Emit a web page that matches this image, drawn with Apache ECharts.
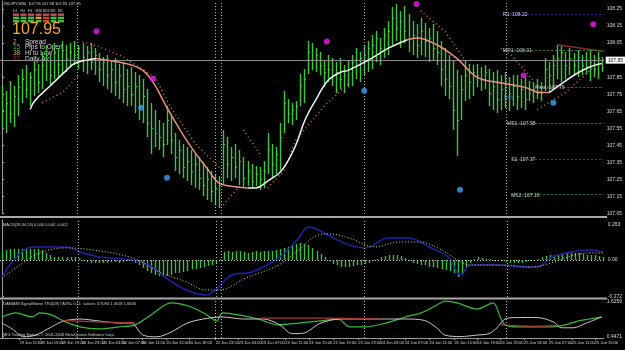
<!DOCTYPE html>
<html lang="en">
<head>
<meta charset="utf-8">
<script src="https://cdn.jsdelivr.net/npm/echarts@6/dist/echarts.min.js"></script>
<style>
html, body { margin: 0; background: #000; }
#chart { width: 625px; height: 350px; }
</style>
</head>
<body>
<div id="chart"></div>
<script>
// USDJPY M30, 150 bars (index 0..149)
var highs = [
  107.80,107.77,107.83,107.80,107.86,107.90,107.92,107.88,107.95,107.93,
  108.00,108.04,107.98,108.05,108.02,108.06,108.04,108.05,108.06,108.04,
  108.05,108.03,108.05,108.02,107.99,107.97,107.98,107.95,107.96,107.93,
  107.94,107.90,107.91,107.88,107.86,107.84,107.78,107.70,107.66,107.60,
  107.58,107.68,107.62,107.52,107.48,107.46,107.44,107.42,107.40,107.38,
  107.35,107.32,107.30,107.28,107.27,107.54,107.50,107.44,107.46,107.42,
  107.38,107.36,107.34,107.33,107.32,107.36,107.52,107.46,107.44,107.58,
  107.77,107.72,107.70,107.71,107.87,107.90,108.06,108.05,108.02,108.00,
  107.95,107.98,107.96,107.94,107.96,107.92,107.95,107.98,108.02,108.00,
  108.04,108.06,108.10,108.12,108.08,108.14,108.18,108.26,108.28,108.24,
  108.27,108.22,108.18,108.16,108.20,108.17,108.14,108.16,108.12,108.06,
  108.02,107.98,107.95,107.89,107.86,107.95,107.93,107.92,107.93,107.91,
  107.92,107.90,107.88,107.89,107.86,107.88,107.85,107.86,107.86,107.84,
  107.85,107.83,107.82,107.84,107.82,107.96,107.94,107.98,108.04,108.04,
  108.00,108.02,107.99,108.01,107.98,108.00,108.01,107.98,108.00,107.97
];
var lows = [
  107.55,107.52,107.58,107.56,107.62,107.70,107.73,107.68,107.74,107.76,
  107.78,107.83,107.80,107.84,107.85,107.86,107.88,107.91,107.92,107.90,
  107.88,107.87,107.89,107.86,107.82,107.80,107.78,107.76,107.74,107.72,
  107.70,107.68,107.68,107.64,107.60,107.58,107.50,107.40,107.44,107.42,
  107.38,107.45,107.40,107.30,107.28,107.26,107.24,107.22,107.20,107.19,
  107.15,107.13,107.12,107.10,107.08,107.22,107.26,107.24,107.26,107.22,
  107.20,107.21,107.20,107.21,107.19,107.20,107.28,107.26,107.28,107.30,
  107.52,107.58,107.57,107.60,107.68,107.70,107.87,107.89,107.88,107.86,
  107.79,107.82,107.80,107.76,107.78,107.76,107.79,107.80,107.84,107.82,
  107.86,107.88,107.90,107.94,107.92,107.96,107.98,108.04,108.06,108.02,
  108.05,108.00,107.98,107.96,107.98,107.97,107.94,107.95,107.92,107.80,
  107.74,107.72,107.54,107.39,107.60,107.71,107.72,107.74,107.79,107.77,
  107.78,107.68,107.66,107.64,107.66,107.67,107.65,107.68,107.66,107.67,
  107.66,107.71,107.70,107.72,107.71,107.77,107.76,107.78,107.84,107.82,
  107.84,107.86,107.87,107.85,107.86,107.87,107.83,107.85,107.84,107.88
];
var closes = [
  107.66,107.70,107.64,107.74,107.79,107.84,107.78,107.85,107.90,107.82,
  107.92,107.98,107.86,108.00,107.93,108.01,107.96,108.00,107.98,108.02,
  107.97,108.00,107.94,107.98,107.90,107.94,107.86,107.90,107.82,107.86,
  107.78,107.80,107.75,107.80,107.68,107.74,107.58,107.55,107.52,107.50,
  107.46,107.60,107.48,107.38,107.42,107.32,107.36,107.30,107.34,107.26,
  107.22,107.25,107.18,107.20,107.22,107.46,107.34,107.38,107.32,107.36,
  107.26,107.30,107.24,107.28,107.25,107.30,107.42,107.34,107.40,107.50,
  107.70,107.64,107.66,107.68,107.80,107.84,108.00,107.95,107.98,107.92,
  107.88,107.90,107.86,107.88,107.84,107.86,107.90,107.94,107.92,107.96,
  107.98,108.02,108.04,108.08,108.02,108.10,108.12,108.20,108.14,108.18,
  108.12,108.08,108.10,108.04,108.12,108.06,108.08,108.02,108.00,107.90,
  107.84,107.80,107.66,107.60,107.78,107.86,107.82,107.88,107.86,107.84,
  107.88,107.76,107.80,107.72,107.78,107.74,107.76,107.80,107.74,107.78,
  107.72,107.76,107.78,107.76,107.79,107.90,107.86,107.92,107.96,108.00,
  107.92,107.96,107.92,107.97,107.92,107.95,107.94,107.90,107.96,107.95
];

// moving average, split where it turns colour
var maRise1 = [[7,107.66],[8.1,107.71],[12,107.80],[16,107.89],[18,107.93],[21,107.95],[23.5,107.96]];
var maFall1 = [[23.5,107.96],[28.5,107.94],[32.3,107.92],[35,107.89],[37.3,107.83],[41.5,107.65],[46.4,107.46],[51.4,107.30],[53.8,107.23],[57,107.21],[61,107.20]];
var maRise2 = [[61,107.20],[63,107.20],[66,107.24],[69.4,107.30],[72.8,107.44],[75.3,107.60],[77.8,107.71],[81,107.83],[84.2,107.88],[86,107.89],[91,107.95],[96,108.02],[100.7,108.07]];
var maFall2 = [[100.7,108.07],[103,108.08],[108,108.04],[113,107.96],[118,107.85],[123,107.82],[130,107.79],[133.6,107.76],[136,107.76]];
var maRise3 = [[136,107.76],[139.5,107.82],[142.7,107.87],[146,107.91],[149,107.93]];

// parabolic SAR runs
var sarRuns = [
  [[10,107.70],[15,107.76],[19,107.86]],
  [[20,108.06],[24,108.03],[30,107.97],[38,107.85],[42,107.67],[48,107.46],[54,107.32]],
  [[55,107.10],[59,107.21]],
  [[60,107.54],[64,107.40]],
  [[66,107.20],[70,107.30],[73,107.48],[80,107.68],[86,107.81]],
  [[104,108.24],[110,108.12],[115,107.95]],
  [[124,108.02],[127,107.97],[132,107.83]],
  [[133,107.66],[140,107.76],[148,107.93]]
];

var sellDots = [[23.5,108.12],[37.5,107.84],[80.7,108.06],[103,108.28],[129.6,107.86],[146.9,108.16]];
var buyDots = [[34.6,107.67],[41,107.26],[90,107.77],[113.8,107.19],[137,107.70]];

var pivotNames = ['R1', 'MR1', 'Pivot', 'MS1', 'S1', 'MS2'];
var pivotValues = [108.22, 108.01, 107.79, 107.58, 107.37, 107.16];
var pivotStart = [124.5, 124.5, 132.5, 125.5, 126.5, 126.5];
var pivotColors = ['#2a2a9a', '#3d7d3d', '#8a3a8a', '#3d7d3d', '#9a2a2a', '#3d7d3d'];
var trendLine = [[138,108.04],[149.5,108.00]];

var lastPrice = 107.95;
var priceTicks = [108.25,108.15,108.05,107.85,107.75,107.65,107.55,107.45,107.35,107.25,107.15,107.05];

// MACD sub-window
var macdHist = [
  0.07,0.075,0.08,0.08,0.085,0.085,0.08,0.08,0.085,0.08,0.075,
  0.05,0.04,
  0.02,0.025,0.02,0.02,0.025,0.02,0.015,
  -0.01,-0.015,-0.02,-0.02,-0.025,-0.02,-0.02,-0.015,-0.015,-0.02,-0.015,-0.01,-0.01,
  -0.02,-0.04,-0.06,-0.08,-0.10,-0.11,-0.12,-0.125,-0.12,-0.11,-0.10,-0.095,-0.09,-0.08,-0.07,-0.07,-0.06,-0.05,-0.045,-0.04,
  -0.02,0.005,
  0.06,0.065,0.06,0.065,0.07,0.06,0.055,0.06,0.065,0.06,0.07,0.065,0.07,0.075,0.085,0.09,
  0.10,0.11,0.12,0.125,0.12,0.11,0.09,0.07,0.045,0.02,
  -0.01,-0.03,-0.04,-0.05,-0.055,-0.05,-0.045,-0.04,-0.035,-0.03,-0.02,-0.01,
  0.01,0.02,0.03,0.04,0.04,0.035,0.03,0.015,
  -0.01,-0.02,-0.03,-0.035,-0.04,-0.05,-0.055,-0.06,-0.07,-0.075,-0.08,
  -0.10,-0.125,-0.11,-0.06,
  -0.02,0.01,0.02,0.015,0.01,0.005,-0.005,-0.01,-0.01,
  -0.015,-0.02,-0.02,-0.025,-0.02,-0.015,-0.01,-0.005,
  0.01,0.02,0.03,0.035,0.04,0.045,0.05,0.05,0.055,0.05,0.05,0.045,0.04,0.04,0.035,0.03,0.025
];
var macdMain = [[0,-0.128],[7.7,0.098],[16,0.098],[19.3,0.060],[24.2,0.023],[32.3,0],[36.5,-0.038],[40.7,-0.135],[45.7,-0.225],[50.6,-0.263],[53,-0.225],[57,-0.113],[62,-0.090],[68.6,0.015],[73.6,0.165],[76,0.248],[78.5,0.225],[81.7,0.173],[86,0.113],[90,0.090],[95.8,0.165],[100.7,0.165],[106.4,0.090],[110.6,0.023],[113.8,-0.113],[116.3,-0.038],[123,-0.038],[129.6,-0.053],[132.8,-0.053],[136,0.015],[141,0.060],[146,0.075],[149,0.060]];
var macdSignal = [[0,-0.135],[4.4,-0.038],[9.4,0.053],[16,0.090],[22.5,0.075],[32.3,0.015],[39,-0.090],[45.7,-0.165],[50.6,-0.225],[53.8,-0.225],[60.5,-0.135],[68.6,-0.038],[73.6,0.075],[78.5,0.188],[81,0.195],[86,0.165],[92.6,0.098],[98.3,0.135],[103.2,0.135],[108.1,0.090],[113,0],[116.3,-0.038],[124.7,-0.038],[131,-0.053],[137,-0.015],[142,0.038],[146,0.053],[149,0.053]];
var macdTicks = [0.263, 0, -0.272];
var macdTickText = ['0.263', '0.00', '-0.272'];

// Damiani volatmeter sub-window
var damGreen = [[0,1.12],[3.5,1.26],[7.4,1.12],[9.4,1.26],[12.3,1.19],[15.3,0.98],[19.3,0.78],[24.2,0.71],[29.1,0.78],[33.1,0.85],[37,1.19],[42,1.60],[47,1.46],[50.9,1.19],[53.3,0.98],[54.8,1.26],[58.8,1.19],[63.7,1.05],[68.6,0.85],[73.6,0.91],[78.5,0.98],[83.5,1.05],[86.4,0.78],[90.4,0.78],[95.3,0.91],[100.2,1.12],[104.2,1.26],[108.1,1.53],[110.1,1.66],[113.1,1.60],[118,1.39],[122,1.60],[124,1.05],[125,0.85],[128,0.78],[136,0.78],[140,0.85],[143,0.98],[146,1.05],[149,1.12]];
var damWhite = [[0,0.91],[2.5,0.71],[5.4,0.44],[8.4,0.50],[12.3,0.78],[15.3,0.98],[19.3,1.05],[24.2,0.98],[29.1,0.91],[32.1,0.91],[35,0.50],[38.5,0.44],[42,0.60],[46,0.91],[50,1.05],[54.8,1.12],[60,1.05],[65,1.05],[69,0.85],[72,0.55],[75,0.57],[79,0.90],[84,1.05],[90,1.05],[95,1.05],[100,1.05],[105,1.00],[108,0.75],[110,0.50],[114,0.45],[118,0.50],[121,0.55],[123,0.75],[125,1.05],[128,1.10],[133,1.10],[137,0.95],[139,0.75],[142,0.75],[145,0.90],[149,1.12]];
var damRed = [
  [[15,1.00],[24,0.95],[33,0.92]],
  [[64,1.08],[80,1.08],[94,1.05]],
  [[124,0.85],[132,0.80],[138,0.82]]
];
var damTicks = [1.63, 0.45];
var damTickText = ['1.6259', '0.4471'];

var separators = [18.8, 53.1, 54.4, 89.9, 125.3];

var timeLabels = ['19 Jun 2008','19 Jun 11:00','19 Jun 15:00','19 Jun 19:00','19 Jun 23:00','20 Jun 03:00','20 Jun 07:00','20 Jun 11:00','20 Jun 15:00','20 Jun 19:00','22 Jun 23:00','23 Jun 03:00','23 Jun 07:00','23 Jun 11:00','23 Jun 15:00','23 Jun 19:00','23 Jun 23:00','24 Jun 03:00','24 Jun 07:00','24 Jun 11:00','24 Jun 15:00','24 Jun 19:00','24 Jun 23:00','25 Jun 03:00','25 Jun 07:00','25 Jun 11:00','25 Jun 15:00'];
var timePos = [-0.5,4.4,9.6,14.8,19.8,25,29.9,34.8,40.8,46.4,53.1,58.8,64.5,70.4,76.3,82.3,88.5,94.1,100.1,106.2,112.4,118.1,123.8,129.7,135.9,141.6,147.3];

var chart = echarts.init(document.getElementById('chart'));
var txtFont = 'Liberation Sans';
var barColor = '#3cc83c';

var bars = highs.map(function (h, i) {
  return [i, closes[i], lows[i], h];
});

// price bar: thin column from low to high, plus a close tick
function renderBar(params, api) {
  var x = api.value(0);
  var top = api.coord([x, api.value(3)]);
  var bot = api.coord([x, api.value(2)]);
  var cl = api.coord([x, api.value(1)]);
  var px = Math.round(top[0]);
  var y1 = Math.round(top[1]);
  var y2 = Math.round(bot[1]);
  return {
    type: 'group',
    children: [
      { type: 'rect', shape: { x: px - 0.2, y: y1, width: 1.4, height: Math.max(1, y2 - y1) }, style: { fill: barColor } },
      { type: 'rect', shape: { x: px + 1, y: Math.round(cl[1]), width: 1, height: 1 }, style: { fill: barColor } }
    ]
  };
}

// histogram column from zero to value
function renderHist(params, api) {
  var x = api.value(0);
  var p = api.coord([x, api.value(1)]);
  var z = api.coord([x, 0]);
  var px = Math.round(p[0]);
  var a = Math.round(Math.min(p[1], z[1]));
  var b = Math.round(Math.max(p[1], z[1]));
  return { type: 'rect', shape: { x: px - 0.2, y: a, width: 1.4, height: Math.max(1, b - a) }, style: { fill: '#3cc03c' } };
}

var vLines = separators.map(function (v) { return { xAxis: v }; });
var vLineStyle = { color: '#b8b8b8', type: [1, 2], width: 1 };

function maSeries(data, color) {
  return {
    type: 'line', xAxisIndex: 0, yAxisIndex: 0, data: data, smooth: 0.4,
    symbol: 'none', lineStyle: { color: color, width: 1.5 }, z: 5, silent: true
  };
}

function yAxisFor(idx, min, max, ticks, fmt) {
  return {
    type: 'value', gridIndex: idx, position: 'right', min: min, max: max,
    splitLine: { show: false },
    axisLine: { show: true, lineStyle: { color: '#9a9a9a' } },
    axisTick: { show: true, length: 2, customValues: ticks, lineStyle: { color: '#9a9a9a' } },
    axisLabel: { customValues: ticks, formatter: fmt, color: '#d8d8d8', fontSize: 5, fontFamily: txtFont, margin: 3 }
  };
}

var series = [
  {
    type: 'custom', xAxisIndex: 0, yAxisIndex: 0, renderItem: renderBar, data: bars, silent: true,
    markLine: {
      symbol: 'none', silent: true, animation: false,
      data: [
        { yAxis: lastPrice, lineStyle: { color: '#8c8c8c', type: 'solid', width: 1 },
          label: { show: true, position: 'end', distance: 2, formatter: lastPrice.toFixed(2), color: '#000', backgroundColor: '#fff', fontSize: 5, fontFamily: txtFont, padding: [1, 2] } }
      ].concat(vLines.map(function (d) { return Object.assign({ lineStyle: vLineStyle, label: { show: false } }, d); }))
    }
  },
  maSeries(maRise1, '#f2f2f2'),
  maSeries(maFall1, '#e8907c'),
  maSeries(maRise2, '#f2f2f2'),
  maSeries(maFall2, '#e8907c'),
  maSeries(maRise3, '#f2f2f2'),
  {
    type: 'scatter', xAxisIndex: 0, yAxisIndex: 0, data: sellDots, symbolSize: 6,
    itemStyle: { color: '#e81ee8' }, z: 6, silent: true
  },
  {
    type: 'scatter', xAxisIndex: 0, yAxisIndex: 0, data: buyDots, symbolSize: 6,
    itemStyle: { color: '#3aa0f0' }, z: 6, silent: true
  },
  {
    type: 'line', xAxisIndex: 0, yAxisIndex: 0, data: trendLine, symbol: 'none',
    lineStyle: { color: '#8b2a2a', width: 1.5 }, silent: true
  },
  {
    type: 'line', xAxisIndex: 0, yAxisIndex: 0, data: [], symbol: 'none', silent: true,
    markLine: {
      symbol: 'none', silent: true, animation: false,
      data: pivotNames.map(function (n, k) {
        return [
          { coord: [pivotStart[k], pivotValues[k]], lineStyle: { color: pivotColors[k], type: [2, 2], width: 1 },
            label: { show: true, position: 'insideStartTop', distance: [0, -3], formatter: n + ': ' + pivotValues[k].toFixed(2), color: '#cfcfcf', fontSize: 5, fontFamily: txtFont } },
          { coord: [149.5, pivotValues[k]] }
        ];
      })
    }
  }
];

sarRuns.forEach(function (run) {
  series.push({
    type: 'line', xAxisIndex: 0, yAxisIndex: 0, data: run, symbol: 'none', silent: true,
    lineStyle: { color: '#d0705a', width: 1.5, type: [1, 3] }, z: 4
  });
});

series.push({
  type: 'custom', xAxisIndex: 1, yAxisIndex: 1, renderItem: renderHist, silent: true,
  data: macdHist.map(function (v, i) { return [i, v]; }),
  markLine: {
    symbol: 'none', silent: true, animation: false, label: { show: false },
    data: [{ yAxis: 0, lineStyle: { color: '#cfcfcf', type: [1, 2], width: 1 } }]
      .concat(vLines.map(function (d) { return Object.assign({ lineStyle: vLineStyle }, d); }))
  }
});
series.push({
  type: 'line', xAxisIndex: 1, yAxisIndex: 1, data: macdMain, smooth: 0.4, symbol: 'none',
  lineStyle: { color: '#2020a8', width: 1.5 }, silent: true
});
series.push({
  type: 'line', xAxisIndex: 1, yAxisIndex: 1, data: macdSignal, smooth: 0.4, symbol: 'none',
  lineStyle: { color: '#dcd6a8', width: 1, type: [1, 2] }, silent: true
});

series.push({
  type: 'line', xAxisIndex: 2, yAxisIndex: 2, data: damGreen, smooth: 0.3, symbol: 'none',
  lineStyle: { color: '#3ab83a', width: 1.2 }, silent: true,
  markLine: {
    symbol: 'none', silent: true, animation: false, label: { show: false },
    data: vLines.map(function (d) { return Object.assign({ lineStyle: vLineStyle }, d); })
  }
});
series.push({
  type: 'line', xAxisIndex: 2, yAxisIndex: 2, data: damWhite, smooth: 0.3, symbol: 'none',
  lineStyle: { color: '#c8c8c8', width: 1 }, silent: true
});
damRed.forEach(function (run) {
  series.push({
    type: 'line', xAxisIndex: 2, yAxisIndex: 2, data: run, smooth: 0.3, symbol: 'none',
    lineStyle: { color: '#a83a3a', width: 1.2 }, silent: true
  });
});

var matrixCols = ['D1', 'H4', 'H1', 'M30', 'M15', 'M5', 'M1'];
var matrixColors = [
  ['#c85050', '#c85050', '#c85050', '#c85050', '#c85050', '#c85050', '#c85050'],
  ['#3cbf3c', '#3cbf3c', '#3cbf3c', '#e0a030', '#d04030', '#3cbf3c', '#3cbf3c'],
  ['#3cbf3c', '#3cbf3c', '#3cbf3c', '#3cbf3c', '#d04030', '#3cbf3c', '#3cbf3c']
];
var graphics = [];
matrixCols.forEach(function (c, k) {
  graphics.push({ type: 'text', left: 13 + k * 7.5, top: 9, style: { text: c, fill: '#cfcfcf', fontSize: 3.5, fontFamily: txtFont } });
  matrixColors.forEach(function (row, r) {
    graphics.push({ type: 'rect', shape: { x: 13 + k * 7.5, y: 13.5 + r * 3.2, width: 6, height: 2.4 }, style: { fill: row[k] } });
  });
});

var infoRows = [
  ['2', '#e0a040', 'Spread'],
  ['15', '#3cbf3c', 'Pips to Open'],
  ['38', '#e0a040', 'Hi to Low'],
  ['97', '#8b3a1a', 'Daily Av']
];
infoRows.forEach(function (r, k) {
  graphics.push({ type: 'text', left: 13, top: 38.5 + k * 5.6, style: { text: r[0], fill: r[1], fontSize: 6.5, fontFamily: txtFont } });
  graphics.push({ type: 'text', left: 25, top: 38.5 + k * 5.6, style: { text: r[2], fill: '#d8d8d8', fontSize: 6.5, fontFamily: txtFont } });
});

graphics.push(
  { type: 'text', left: 2, top: 1.5, style: { text: 'USDJPY,M30  107.96 107.98 107.95 107.95', fill: '#d8d8d8', fontSize: 4, fontFamily: txtFont } },
  { type: 'text', left: 12, top: 22, style: { text: '107.95', fill: '#f2a830', fontSize: 16, fontFamily: txtFont } },
  { type: 'text', left: 3, top: 223, style: { text: 'MACD(28,34,13) 0.040 0.044 -0.002', fill: '#cfcfcf', fontSize: 4, fontFamily: txtFont } },
  { type: 'text', left: 3, top: 301.5, style: { text: 'DAMIANI Signal/Noise TR4(28) / ATR= 0.11  values: 0.9094 1.0618 1.0636', fill: '#cfcfcf', fontSize: 4, fontFamily: txtFont } },
  { type: 'text', left: 3, top: 333, style: { text: 'MIG Trading Station, \u00a9 2001-2008 MetaQuotes Software Corp.', fill: '#cfcfcf', fontSize: 4, fontFamily: txtFont } },
  { type: 'text', left: 504, top: 95, style: { text: 'Daily', fill: '#3a5ad0', fontSize: 4.5, fontFamily: txtFont } },
  { type: 'line', shape: { x1: 0, y1: 217, x2: 607, y2: 217 }, style: { stroke: '#a8a8a8', lineWidth: 2 } },
  { type: 'line', shape: { x1: 0, y1: 298.5, x2: 607, y2: 298.5 }, style: { stroke: '#a8a8a8', lineWidth: 2 } }
);

function xAxisFor(idx, show) {
  return {
    type: 'value', gridIndex: idx, min: -0.5, max: 149.5, show: show,
    splitLine: { show: false },
    axisLine: { show: show, lineStyle: { color: '#9a9a9a' } },
    axisTick: { show: show, length: 2, customValues: timePos, lineStyle: { color: '#9a9a9a' } },
    axisLabel: {
      show: show, customValues: timePos, align: 'left', color: '#d8d8d8', fontSize: 4, fontFamily: txtFont, margin: 3,
      formatter: function (v) { var k = timePos.indexOf(v); return k >= 0 ? timeLabels[k] : ''; }
    }
  };
}

chart.setOption({
  backgroundColor: '#000',
  animation: false,
  grid: [
    { left: 0, right: 18, top: 1, height: 213 },
    { left: 0, right: 18, top: 220, height: 77 },
    { left: 0, right: 18, top: 300, height: 38 }
  ],
  xAxis: [xAxisFor(0, false), xAxisFor(1, false), xAxisFor(2, true)],
  yAxis: [
    yAxisFor(0, 107.047, 108.297, priceTicks, function (v) { return v.toFixed(2); }),
    yAxisFor(1, -0.278, 0.300, macdTicks, function (v) { return macdTickText[macdTicks.indexOf(v)]; }),
    yAxisFor(2, 0.40, 1.70, damTicks, function (v) { return damTickText[damTicks.indexOf(v)]; })
  ],
  graphic: graphics,
  series: series
});
</script>
</body>
</html>
